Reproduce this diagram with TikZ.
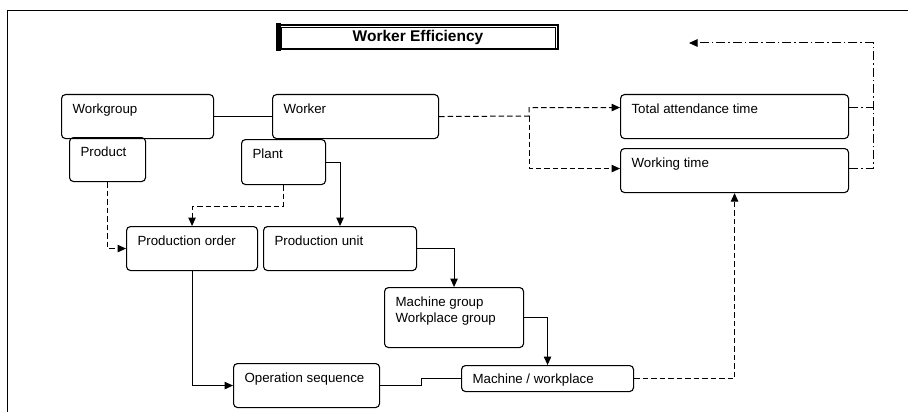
\documentclass[tikz,border=0pt]{standalone}
\usepackage{fontspec}
\setmainfont{Liberation Sans}
\usetikzlibrary{arrows.meta,calc}
\newcommand{\bxt}[2]{\parbox[t]{#1pt}{\leftskip=11pt\relax #2}}
\tikzset{
  bx/.style={draw, rounded corners=4pt, line width=1.1pt, inner sep=0pt, anchor=north west,
    text height=18.5pt, font=\fontsize{13.3}{16}\selectfont},
  ttlbox/.style={draw, line width=2pt, minimum width=280pt,
    minimum height=24pt, inner sep=0pt, font=\fontsize{15.5}{18}\selectfont\bfseries},
  conn/.style={line width=1pt},
  arr/.style={-{Triangle[length=8.5pt,width=7.5pt]}},
  dsh/.style={dash pattern=on 5.5pt off 3pt},
  ddot/.style={dash pattern=on 9pt off 3pt on 1.5pt off 3pt},
}
\begin{document}
\begin{tikzpicture}[x=1pt,y=-1pt]
\useasboundingbox (0,0) rectangle (908,412);
% frame
\draw[line width=1pt] (7.5,415) -- (7.5,10.7) -- (912,10.7);
% title
\node[ttlbox] (ttl) at (418,37.5) {Worker Efficiency};
\draw[line width=0.7pt] ($(ttl.north west)+(4,3)$) rectangle ($(ttl.south east)+(-3.5,-2.5)$);
\fill ($(ttl.north west)+(-1,-1)$) rectangle ($(ttl.south west)+(4,1)$);
% boxes
\node[bx, text depth=25.5pt] (wg) at (61,94) {\bxt{152}{Workgroup}};
\node[bx, text depth=25.5pt] (wk) at (272,94) {\bxt{166}{Worker}};
\node[bx, text depth=25.5pt] (pr) at (69,137) {\bxt{76}{Product}};
\node[bx, text depth=26.5pt] (pl) at (241,139) {\bxt{84}{Plant}};
\node[bx, text depth=25.5pt] (po) at (126,226) {\bxt{131}{Production order}};
\node[bx, text depth=25.5pt] (pu) at (263,226) {\bxt{153}{Production unit}};
\node[bx, text depth=41.5pt] (mg) at (384,287) {\bxt{139}{Machine group\\Workplace group}};
\node[bx, text height=17.5pt, text depth=8.5pt] (mw) at (461,365) {\bxt{172}{Machine / workplace}};
\node[bx, text depth=25.5pt] (os) at (233,363) {\bxt{146}{Operation sequence}};
\node[bx, text depth=25.5pt] (ta) at (620,94) {\bxt{228}{Total attendance time}};
\node[bx, text depth=25.5pt] (wt) at (620,148) {\bxt{228}{Working time}};
% connectors
\coordinate (wkj) at (529,116);
\coordinate (fb) at (873,43);
\coordinate (fe) at (689,43);
\draw[conn] (wg.east) -- (wk.west);
\draw[conn,dsh,arr] (wk.east) -- (wkj) |- ($(ta.west)+(0,-9)$);
\draw[conn,dsh,arr] (wkj) |- ($(wt.west)+(0,-2)$);
\draw[conn,arr] (pl.east) -| (pu.north);
\draw[conn,dsh,arr] (pl.south) -- ++(0,21) -| (po.north);
\draw[conn,dsh,arr] (pr.south) |- (po.west);
\draw[conn,arr] (pu.east) -| (mg.north);
\draw[conn,arr] (mg.east) -| (mw.north);
\draw[conn,arr] (po.south) |- (os.west);
\draw[conn] (os.east) -- ++(41,0) |- (mw.west);
\draw[conn,dsh,arr] (mw.east) -| (wt.south);
\draw[conn,ddot] ($(ta.east)+(0,-9)$) -- ++(25,0);
\draw[conn,ddot,arr] ($(wt.east)+(0,-2)$) -| (fb) -- (fe);
\end{tikzpicture}
\end{document}
